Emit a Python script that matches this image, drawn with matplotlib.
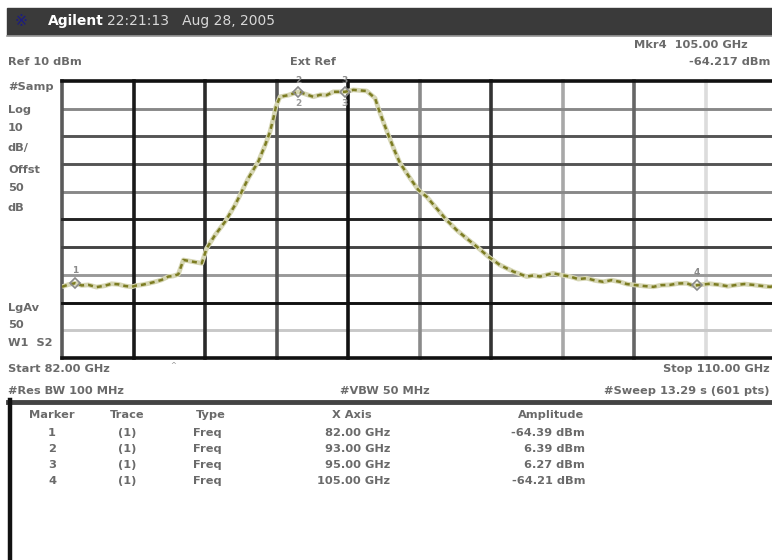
import matplotlib
matplotlib.use("Agg")
import matplotlib.pyplot as plt
from matplotlib.lines import Line2D

# ---------------- data ----------------
start_ghz = 82.0
stop_ghz = 110.0
ref_dbm = 10.0
db_per_div = 10.0

trace_freq = [82.00, 82.25, 82.51, 82.77, 83.03, 83.35, 83.68, 83.94, 84.20, 84.47, 84.73,
              84.92, 85.12, 85.38, 85.64, 85.90, 86.16, 86.35, 86.55, 86.75, 87.10, 87.47,
              87.66, 87.99, 88.38, 88.77, 89.03, 89.29, 89.68, 89.95, 90.14, 90.27, 90.37,
              90.53, 90.86, 91.25, 91.55, 91.83, 92.10, 92.36, 92.62, 93.07, 93.40, 93.92,
              94.25, 94.38, 94.57, 94.77, 95.03, 95.23, 95.62, 95.94, 96.27, 96.66, 97.05,
              97.44, 97.83, 98.23, 98.68, 99.13, 99.66, 100.18, 100.45, 100.70, 101.22,
              101.55, 101.88, 102.20, 102.53, 102.85, 103.18, 103.50, 103.83, 104.10,
              104.35, 104.75, 105.14, 105.45, 105.79, 106.10, 106.44, 106.70, 106.96,
              107.35, 107.75, 108.05, 108.40, 108.70, 109.05, 109.40, 109.70, 110.00]
trace_dbm = [-64.3, -63.5, -63.0, -63.8, -63.6, -64.4, -63.9, -63.2, -63.4, -64.0, -64.3,
             -63.8, -63.6, -63.1, -62.5, -61.8, -60.6, -60.4, -59.8, -54.6, -55.2, -55.8,
             -50.4, -45.6, -40.8, -34.8, -30.0, -25.1, -19.1, -13.1, -8.3, -3.5, 0.7,
             4.3, 4.9, 6.1, 5.2, 4.3, 5.0, 4.9, 6.1, 6.1, 6.8, 6.4,
             3.8, 0.1, -4.7, -9.5, -15.5, -19.7, -25.1, -29.3, -31.8, -36.0, -40.2,
             -43.8, -46.8, -49.8, -53.4, -56.4, -58.8, -60.6, -60.2, -60.6, -59.4,
             -60.1, -60.6, -61.5, -61.2, -62.0, -62.5, -61.9, -62.5, -63.3,
             -63.6, -64.0, -64.3, -63.7, -63.6, -63.1, -63.0, -63.9, -63.6,
             -63.2, -63.6, -64.1, -63.6, -63.3, -63.6, -64.0, -64.3, -63.9]

marker_ids = ["1", "2", "3", "4"]
marker_freq = [82.51, 91.25, 93.07, 106.85]
marker_dbm = [-63.0, 6.1, 6.1, -63.6]

# grid line colours (left->right, top->bottom)
vgrid_colors = ["#5a5a5a", "#1a1a1a", "#2a2a2a", "#555555", "#111111",
                "#8a8a8a", "#333333", "#a8a8a8", "#666666", "#dcdcdc", "#111111"]
hgrid_colors = ["#111111", "#888888", "#555555", "#555555", "#888888", "#222222",
                "#444444", "#999999", "#111111", "#c8c8c8", "#111111"]

left_labels = [("#Samp", 87), ("Log", 110), ("10", 128), ("dB/", 148), ("Offst", 170),
               ("50", 188), ("dB", 208), ("LgAv", 308), ("50", 325), ("W1  S2", 343)]

table_header = ["Marker", "Trace", "Type", "X Axis", "Amplitude"]
table_trace = ["(1)", "(1)", "(1)", "(1)"]
table_type = ["Freq", "Freq", "Freq", "Freq"]
table_x = ["82.00 GHz", "93.00 GHz", "95.00 GHz", "105.00 GHz"]
table_amp = ["-64.39 dBm", "6.39 dBm", "6.27 dBm", "-64.21 dBm"]

# ---------------- figure ----------------
W, H = 772, 560
fig = plt.figure(figsize=(W / 100, H / 100), dpi=100)
fig.patch.set_facecolor("white")


def P(x, y):
    return x / W, 1 - y / H


TXT = dict(color="#6a6a6a", fontsize=8.2, fontweight="bold", family="DejaVu Sans")

# title bar
fig.add_artist(plt.Rectangle(P(7, 35), (W - 7) / W, 27 / H, transform=fig.transFigure,
                             color="#3a3a3a", zorder=0))
fig.add_artist(Line2D([7 / W, 1], [1 - 36 / H] * 2, transform=fig.transFigure,
                      color="#9a9a9a", lw=1.2))
fig.text(*P(15, 21), "※", color="#1c1c80", fontsize=11, va="center", ha="left")
fig.text(*P(48, 21), "Agilent", color="white", fontsize=10, fontweight="bold",
         va="center", ha="left")
fig.text(*P(107, 21), "22:21:13   Aug 28, 2005", color="#d8d8d8", fontsize=10,
         va="center", ha="left")

# header texts
fig.text(*P(8, 62), "Ref 10 dBm", va="center", ha="left", **TXT)
fig.text(*P(290, 62), "Ext Ref", va="center", ha="left", **TXT)
fig.text(*P(634, 45), "Mkr4  105.00 GHz", va="center", ha="left", **TXT)
fig.text(*P(770, 62), "-64.217 dBm", va="center", ha="right", **TXT)
for s, y in left_labels:
    fig.text(*P(8, y), s, va="center", ha="left", **TXT)

fig.text(*P(8, 369), "Start 82.00 GHz", va="center", ha="left", **TXT)
fig.text(*P(8, 391), "#Res BW 100 MHz", va="center", ha="left", **TXT)
fig.text(*P(340, 391), "#VBW 50 MHz", va="center", ha="left", **TXT)
fig.text(*P(770, 369), "Stop 110.00 GHz", va="center", ha="right", **TXT)
fig.text(*P(770, 391), "#Sweep 13.29 s (601 pts)", va="center", ha="right", **TXT)
fig.text(*P(173, 365), "^", color="#888888", fontsize=5, va="center", ha="center")

# ---------------- plot area ----------------
x0, x1, y0, y1 = 62, 777.6, 81, 358
ax = fig.add_axes([x0 / W, 1 - y1 / H, (x1 - x0) / W, (y1 - y0) / H])
ax.set_xlim(start_ghz, stop_ghz)
ax.set_ylim(ref_dbm - 10 * db_per_div, ref_dbm)
ax.set_axis_off()

div_x = (stop_ghz - start_ghz) / 10
lines = []
for i, c in enumerate(vgrid_colors):
    lines.append(("v", start_ghz + i * div_x, c))
for i, c in enumerate(hgrid_colors):
    lines.append(("h", ref_dbm - i * db_per_div, c))


def lightness(c):
    return int(c[1:3], 16)


for kind, val, c in sorted(lines, key=lambda t: -lightness(t[2])):
    z = 2 + (255 - lightness(c)) / 255
    if kind == "v":
        ax.axvline(val, color=c, lw=2.6, zorder=z, clip_on=False)
    else:
        lw = 2.6 if val in (ref_dbm, ref_dbm - 10 * db_per_div) else 2.1
        ax.axhline(val, color=c, lw=lw, zorder=z, clip_on=False)

# trace
ax.plot(trace_freq, trace_dbm, color="#d6d6b4", lw=3.4, zorder=5, solid_capstyle="butt")
ax.plot(trace_freq, trace_dbm, color="#7c7c22", lw=1.8, zorder=6, dashes=(2.0, 1.6))

# markers
for mid, f, d in zip(marker_ids, marker_freq, marker_dbm):
    ax.plot([f], [d], marker="D", ms=5.5, mfc="none", mec="#8a8a8a", mew=1.2, zorder=7)
    if mid in ("2", "3"):
        ax.annotate(mid, (f, d), xytext=(0, 5), textcoords="offset points", ha="center",
                    va="bottom", color="#8a8a8a", fontsize=6.5, fontweight="bold", zorder=7)
        ax.annotate(mid, (f, d), xytext=(0, -5), textcoords="offset points", ha="center",
                    va="top", color="#9a9a9a", fontsize=6.5, fontweight="bold", zorder=7)
    else:
        ax.annotate(mid, (f, d), xytext=(0, 6), textcoords="offset points", ha="center",
                    va="bottom", color="#8a8a8a", fontsize=6.5, fontweight="bold", zorder=7)

# ---------------- marker table ----------------
fig.add_artist(Line2D([8 / W, 1], [1 - 402 / H] * 2, transform=fig.transFigure,
                      color="#444444", lw=3.5))
fig.add_artist(Line2D([10 / W, 10 / W], [1 - 400 / H, 0], transform=fig.transFigure,
                      color="#111111", lw=3.2))

hx = [52, 127, 211, 352, 551]
for s, x in zip(table_header, hx):
    fig.text(*P(x, 415), s, va="center", ha="center", **TXT)
row_y = [433, 449, 465, 481]
for i, y in enumerate(row_y):
    fig.text(*P(52, y), marker_ids[i], va="center", ha="center", **TXT)
    fig.text(*P(127, y), table_trace[i], va="center", ha="center", **TXT)
    fig.text(*P(193, y), table_type[i], va="center", ha="left", **TXT)
    fig.text(*P(390, y), table_x[i], va="center", ha="right", **TXT)
    fig.text(*P(585, y), table_amp[i], va="center", ha="right", **TXT)

fig.savefig("out.png", dpi=100, facecolor="white")
